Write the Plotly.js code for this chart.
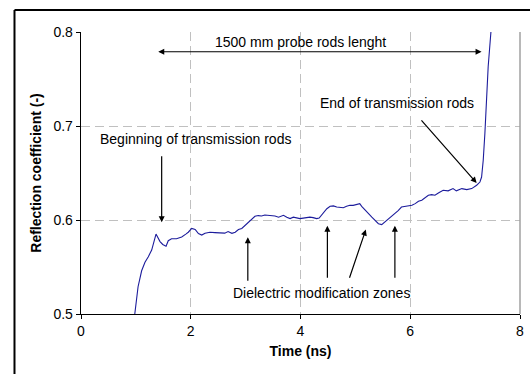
<!DOCTYPE html>
<html>
<head>
<meta charset="utf-8">
<script src="https://cdn.plot.ly/plotly-3.0.1.min.js"></script>
<style>html,body{margin:0;padding:0;background:#fff;overflow:hidden;}#chart{width:530px;height:374px;}</style>
</head>
<body>
<div id="chart"></div>
<script>
var timeNs = [0.98,1.04,1.105,1.166,1.227,1.288,1.367,1.44,1.49,1.55,1.59,1.65,1.74,1.835,1.91,1.955,2.017,2.08,2.14,2.2,2.26,2.35,2.44,2.53,2.62,2.68,2.75,2.81,2.87,2.93,2.99,3.05,3.11,3.17,3.23,3.29,3.35,3.41,3.47,3.535,3.6,3.66,3.69,3.75,3.81,3.87,3.93,3.99,4.05,4.11,4.17,4.23,4.295,4.34,4.41,4.48,4.54,4.6,4.66,4.72,4.78,4.84,4.9,4.96,5.02,5.08,5.115,5.175,5.24,5.3,5.36,5.42,5.48,5.54,5.6,5.66,5.72,5.78,5.84,5.9,5.96,6.03,6.09,6.15,6.21,6.27,6.33,6.39,6.45,6.52,6.6,6.69,6.78,6.84,6.94,7.03,7.12,7.21,7.27,7.3,7.33,7.36,7.39,7.42,7.47,7.5];
var reflection = [0.5,0.529,0.546,0.555,0.561,0.568,0.585,0.577,0.574,0.572,0.578,0.58,0.58,0.582,0.585,0.587,0.591,0.59,0.5855,0.584,0.586,0.587,0.5866,0.5866,0.586,0.5877,0.5858,0.587,0.5898,0.591,0.5944,0.598,0.6015,0.604,0.6047,0.6043,0.6053,0.605,0.6047,0.6043,0.603,0.6039,0.605,0.603,0.6015,0.603,0.602,0.6015,0.602,0.6025,0.603,0.6025,0.6015,0.602,0.6074,0.612,0.6146,0.615,0.6138,0.613,0.613,0.6146,0.6156,0.6156,0.6167,0.6174,0.6146,0.6103,0.6068,0.603,0.5997,0.596,0.5951,0.598,0.6007,0.604,0.6068,0.61,0.6138,0.6146,0.615,0.6156,0.6174,0.62,0.621,0.6238,0.6263,0.627,0.6263,0.629,0.6316,0.631,0.6334,0.631,0.6334,0.6323,0.6334,0.637,0.6404,0.6457,0.6635,0.692,0.727,0.763,0.8,0.84];
var xTicks = [0,2,4,6,8];
var yTicks = [0.5,0.6,0.7,0.8];

var txtFont = {family:'Liberation Sans, Arial, sans-serif', size:14, color:'#000'};
function arrow(hx,hy,tx,ty,side){
  return {x:hx,y:hy,ax:tx,ay:ty,xref:'x',yref:'y',axref:'x',ayref:'y',text:'',showarrow:true,
    arrowhead:2,arrowsize:1,arrowwidth:1.2,arrowcolor:'#000',arrowside:side||'end',standoff:0,startstandoff:0};
}
function label(x,y,t){
  return {x:x,y:y,xref:'x',yref:'y',text:t,showarrow:false,font:txtFont,xanchor:'center',yanchor:'middle'};
}
var annotations = [
  label(4.0,0.789,'1500 mm probe rods lenght'),
  arrow(7.30,0.779,1.38,0.779,'end+start'),
  label(2.09,0.686,'Beginning of transmission rods'),
  arrow(1.47,0.5975,1.47,0.6695),
  label(5.75,0.7245,'End of transmission rods'),
  arrow(7.21,0.6394,6.18,0.7075),
  label(4.386,0.5223,'Dielectric modification zones'),
  arrow(3.04,0.5816,3.04,0.5337),
  arrow(4.49,0.594,4.49,0.537),
  arrow(5.19,0.5898,4.884,0.537),
  arrow(5.72,0.594,5.72,0.537)
];

var trace = {x:timeNs,y:reflection,type:'scatter',mode:'lines',line:{color:'#1c1c9c',width:1.1},hoverinfo:'skip'};
var layout = {
  width:530,height:374,
  margin:{l:81,r:10,t:32,b:60},
  paper_bgcolor:'#fff',plot_bgcolor:'#fff',
  showlegend:false,
  font:{family:'Liberation Sans, Arial, sans-serif',size:14,color:'#000'},
  xaxis:{range:[0,8],tickvals:xTicks,ticktext:xTicks.map(String),showgrid:true,gridcolor:'#c0c0c0',griddash:'9px,5px',gridwidth:1,
    showline:true,linecolor:'#000',linewidth:1.3,ticks:'outside',ticklen:4,tickcolor:'#000',zeroline:false,
    tickfont:{size:14},title:{text:'<b>Time (ns)</b>',font:{size:14},standoff:8}},
  yaxis:{range:[0.5,0.8],tickvals:yTicks,ticktext:yTicks.map(function(v){return v.toFixed(1);}),showgrid:true,gridcolor:'#c0c0c0',griddash:'9px,5px',gridwidth:1,
    showline:true,linecolor:'#000',linewidth:1.3,ticks:'outside',ticklen:4,tickcolor:'#000',zeroline:false,
    tickfont:{size:14},title:{text:'<b>Reflection coefficient (-)</b>',font:{size:14},standoff:8}},
  annotations:annotations,
  shapes:[
    {type:'line',xref:'paper',yref:'paper',x0:1,x1:1,y0:0,y1:1,line:{color:'#a0a0a0',width:1.5},layer:'above'},
    {type:'line',xref:'paper',yref:'paper',x0:-0.1515,x1:-0.1515,y0:-0.3,y1:1.078,line:{color:'#000',width:2},layer:'above'},
    {type:'line',xref:'paper',yref:'paper',x0:-0.1515,x1:1.1,y0:1.078,y1:1.078,line:{color:'#000',width:2},layer:'above'}
  ]
};
Plotly.newPlot('chart',[trace],layout,{staticPlot:true,displayModeBar:false});
</script>
</body>
</html>
